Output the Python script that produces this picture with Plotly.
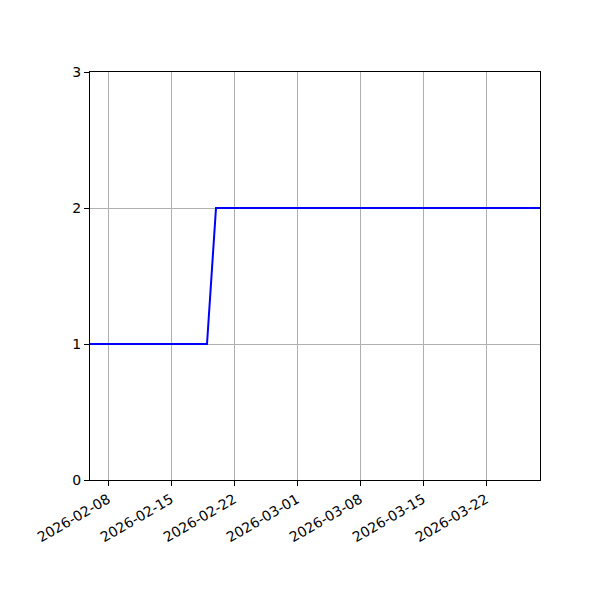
import pandas as pd
import plotly.graph_objects as go

# daily counts
dates = pd.date_range("2026-02-06", "2026-03-28", freq="D")
values = [1] * 14 + [2] * 37

tick_dates = ["2026-02-08", "2026-02-15", "2026-02-22", "2026-03-01",
              "2026-03-08", "2026-03-15", "2026-03-22"]
y_ticks = [0, 1, 2, 3]

fig = go.Figure()
fig.add_trace(go.Scatter(x=dates, y=values, mode="lines",
                         line=dict(color="blue", width=2)))

axis_style = dict(showline=True, linecolor="black", linewidth=1.1, mirror=True,
                  ticks="outside", ticklen=5, tickcolor="black", tickwidth=1.1,
                  showgrid=True, gridcolor="#b0b0b0", gridwidth=1.1,
                  zeroline=False)

fig.update_xaxes(range=[dates[0], dates[-1]], tickvals=tick_dates,
                 ticktext=tick_dates, tickangle=-30, **axis_style)
fig.update_yaxes(range=[0, 3], tickvals=y_ticks, **axis_style)

# page body adds 8px, so margins are shifted by that
fig.update_layout(width=600, height=600, showlegend=False,
                  plot_bgcolor="white", paper_bgcolor="white",
                  margin=dict(l=82, r=68, t=64, b=128),
                  font=dict(family="DejaVu Sans", size=14, color="black"))

fig.write_html("out.html")
